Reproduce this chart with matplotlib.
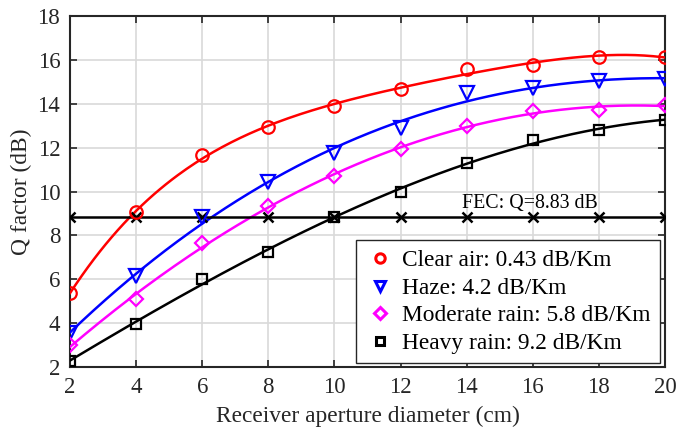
import matplotlib.pyplot as plt
import numpy as np
from matplotlib.lines import Line2D

plt.rcParams['font.family'] = ['Liberation Serif', 'DejaVu Serif']
plt.rcParams['mathtext.fontset'] = 'stix'

aperture = [2, 4, 6, 8, 10, 12, 14, 16, 18, 20]
clear_air = [5.37, 9.05, 11.66, 12.93, 13.9, 14.68, 15.58, 15.78, 16.14, 16.14]
haze = [3.54, 6.16, 8.85, 10.45, 11.77, 12.9, 14.47, 14.72, 15.06, 15.13]
moderate_rain = [3.0, 5.09, 7.64, 9.34, 10.71, 11.95, 12.98, 13.68, 13.71, 13.95]
heavy_rain = [2.29, 3.97, 6.02, 7.25, 8.85, 9.98, 11.28, 12.35, 12.8, 13.26]
fec_q = 8.83

labels = ["Clear air: 0.43 dB/Km", "Haze: 4.2 dB/Km",
          "Moderate rain: 5.8 dB/Km", "Heavy rain: 9.2 dB/Km"]
colors = ['red', 'blue', 'magenta', 'black']
markers = ['o', 'v', 'D', 's']
msizes = [9, 9.5, 7.5, 7.5]
fit_deg = [4, 3, 3, 3]

fig = plt.figure(figsize=(6.77, 4.34), dpi=100)
ax = fig.add_axes([0.1034, 0.1544, 0.8789, 0.8087])

x = np.array(aperture)
xf = np.linspace(2, 20, 200)
handles = []
for ys, c, m, ms, d, lab in zip([clear_air, haze, moderate_rain, heavy_rain],
                                colors, markers, msizes, fit_deg, labels):
    p = np.polyfit(x, ys, d)
    ax.plot(xf, np.polyval(p, xf), color=c, lw=1.8, zorder=3)
    ax.plot(x, ys, ls='none', marker=m, ms=ms, mfc='none', mec=c, mew=1.6, zorder=4)
    handles.append(Line2D([], [], ls='none', marker=m, ms=ms * 0.75, mfc='none',
                          mec=c, mew=2.2, label=lab))

ax.plot(x, [fec_q] * len(x), color='black', lw=1.8, marker='x', ms=7, mew=1.8, zorder=3)
ax.text(13.85, 9.23, "FEC: Q=8.83 dB", fontsize=14.3, ha='left', va='baseline')

ax.set_xlim(2, 20)
ax.set_ylim(2, 18)
ax.set_xticks(range(2, 21, 2))
ax.set_yticks(range(2, 19, 2))
ax.tick_params(direction='in', top=True, right=True, labelsize=16.5, length=5, width=1.2,
               colors='#262626', labelcolor='#262626', pad=7)
ax.grid(True, color='#d9d9d9', lw=1.2)
ax.set_axisbelow(True)
for s in ax.spines.values():
    s.set_linewidth(1.5)
    s.set_color('#262626')

ax.set_xlabel("Receiver aperture diameter (cm)", fontsize=16.8, color='#262626', labelpad=6)
ax.set_ylabel("Q factor (dB)", fontsize=16.8, color='#262626', labelpad=4)

leg = ax.legend(handles=handles, loc='lower right', bbox_to_anchor=(0.9916, 0.0105),
                fontsize=16.8, fancybox=False, framealpha=1, edgecolor='#262626',
                handlelength=1.2, handletextpad=0.37, borderpad=0.4, labelspacing=0.27,
                borderaxespad=0)
leg.get_frame().set_linewidth(1.0)

fig.savefig("out.png", dpi=100)
